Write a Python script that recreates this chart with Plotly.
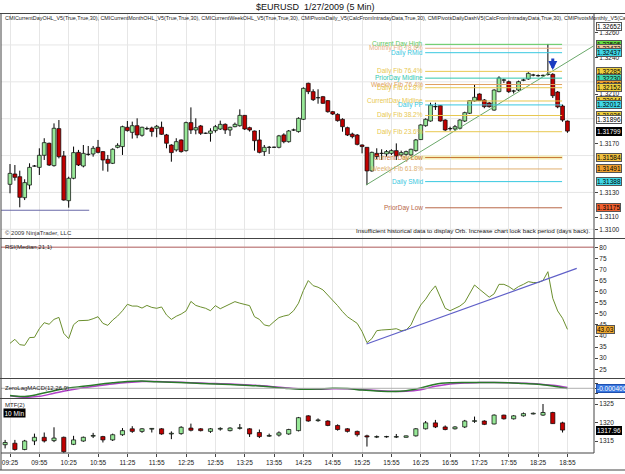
import plotly.graph_objects as go

W, H = 625, 474

# ---------------- data ----------------
time_labels = ["09:25", "09:55", "10:25", "10:55", "11:25", "11:55", "12:25", "12:55", "13:25", "13:55",
               "14:25", "14:55", "15:25", "15:55", "16:25", "16:55", "17:25", "17:55", "18:25", "18:55"]

# 5-minute EURUSD bars (bar index 0 = 09:25)
bar_open = [1.31366, 1.31450, 1.31428, 1.31257, 1.31360, 1.31514, 1.31504, 1.31602, 1.31700, 1.31518,
            1.31819, 1.31597, 1.31233, 1.31415, 1.31626, 1.31515, 1.31609, 1.31613, 1.31667, 1.31632,
            1.31569, 1.31537, 1.31667, 1.31673, 1.31830, 1.31789, 1.31843, 1.31765, 1.31818, 1.31824,
            1.31822, 1.31830, 1.31768, 1.31686, 1.31646, 1.31727, 1.31640, 1.31868, 1.31808, 1.31841,
            1.31781, 1.31781, 1.31803, 1.31816, 1.31854, 1.31808, 1.31835, 1.31843, 1.31927, 1.31827,
            1.31800, 1.31727, 1.31632, 1.31666, 1.31667, 1.31667, 1.31768, 1.31713, 1.31807, 1.31795,
            1.31895, 1.32188, 1.32120, 1.32070, 1.32079, 1.32047, 1.31957, 1.31935, 1.31895, 1.31827,
            1.31775, 1.31767, 1.31686, 1.31667, 1.31475, 1.31618, 1.31617, 1.31613, 1.31618, 1.31640,
            1.31605, 1.31610, 1.31605, 1.31640, 1.31730, 1.31843, 1.31881, 1.31999, 1.32006, 1.31889,
            1.31818, 1.31816, 1.31822, 1.31881, 1.31944, 1.32044, 1.32101, 1.32052, 1.32028, 1.31970,
            1.32120, 1.32213, 1.32201, 1.32124, 1.32133, 1.32212, 1.32223, 1.32254, 1.32249, 1.32249,
            1.32260, 1.32261, 1.32117, 1.32003, 1.31881]
bar_high = [1.31531, 1.31523, 1.31477, 1.31407, 1.31537, 1.31523, 1.31659, 1.31741, 1.31705, 1.31862,
            1.31889, 1.31637, 1.31428, 1.31673, 1.31646, 1.31686, 1.31678, 1.31678, 1.31727, 1.31637,
            1.31605, 1.31659, 1.31700, 1.31843, 1.31881, 1.31876, 1.31903, 1.31835, 1.31835, 1.31835,
            1.31849, 1.31876, 1.31776, 1.31692, 1.31741, 1.31732, 1.31876, 1.31992, 1.31903, 1.31849,
            1.31787, 1.31822, 1.31849, 1.31884, 1.31862, 1.31835, 1.31868, 1.31976, 1.31930, 1.31835,
            1.31803, 1.31808, 1.31686, 1.31678, 1.31673, 1.31768, 1.31781, 1.31808, 1.31819, 1.31911,
            1.32155, 1.32193, 1.32139, 1.32139, 1.32085, 1.32052, 1.31963, 1.31944, 1.31903, 1.31835,
            1.31786, 1.31775, 1.31691, 1.31669, 1.31632, 1.31659, 1.31651, 1.31645, 1.31651, 1.31699,
            1.31640, 1.31640, 1.31656, 1.31735, 1.31854, 1.31903, 1.32030, 1.32030, 1.32011, 1.31895,
            1.31835, 1.31849, 1.31895, 1.31957, 1.32052, 1.32174, 1.32106, 1.32060, 1.32035, 1.32140,
            1.32245, 1.32225, 1.32210, 1.32135, 1.32210, 1.32225, 1.32278, 1.32265, 1.32260, 1.32259,
            1.32508, 1.32270, 1.32125, 1.32015, 1.31885]
bar_low = [1.31293, 1.31396, 1.31179, 1.31238, 1.31325, 1.31510, 1.31442, 1.31564, 1.31515, 1.31510,
           1.31577, 1.31233, 1.31176, 1.31407, 1.31515, 1.31504, 1.31599, 1.31591, 1.31618, 1.31477,
           1.31469, 1.31531, 1.31659, 1.31605, 1.31795, 1.31738, 1.31741, 1.31754, 1.31808, 1.31754,
           1.31749, 1.31768, 1.31659, 1.31550, 1.31632, 1.31624, 1.31632, 1.31776, 1.31773, 1.31768,
           1.31776, 1.31713, 1.31787, 1.31808, 1.31776, 1.31760, 1.31830, 1.31835, 1.31808, 1.31795,
           1.31640, 1.31618, 1.31597, 1.31613, 1.31662, 1.31659, 1.31700, 1.31705, 1.31800, 1.31787,
           1.31889, 1.32100, 1.32044, 1.32022, 1.32020, 1.31949, 1.31930, 1.31876, 1.31794, 1.31759,
           1.31740, 1.31683, 1.31618, 1.31360, 1.31469, 1.31572, 1.31564, 1.31591, 1.31605, 1.31564,
           1.31591, 1.31599, 1.31599, 1.31632, 1.31727, 1.31835, 1.31876, 1.31971, 1.31876, 1.31800,
           1.31803, 1.31803, 1.31813, 1.31873, 1.31938, 1.32039, 1.32044, 1.31985, 1.31990, 1.31965,
           1.32115, 1.32190, 1.32110, 1.32105, 1.32125, 1.32205, 1.32217, 1.32245, 1.32242, 1.32243,
           1.32250, 1.32068, 1.31985, 1.31875, 1.31785]
bar_close = [1.31455, 1.31423, 1.31260, 1.31380, 1.31504, 1.31515, 1.31602, 1.31705, 1.31523, 1.31822,
             1.31591, 1.31238, 1.31415, 1.31624, 1.31523, 1.31618, 1.31611, 1.31659, 1.31626, 1.31564,
             1.31537, 1.31651, 1.31683, 1.31835, 1.31803, 1.31843, 1.31768, 1.31830, 1.31820, 1.31795,
             1.31838, 1.31773, 1.31700, 1.31624, 1.31713, 1.31632, 1.31868, 1.31808, 1.31827, 1.31781,
             1.31782, 1.31800, 1.31835, 1.31854, 1.31808, 1.31830, 1.31854, 1.31927, 1.31816, 1.31808,
             1.31721, 1.31626, 1.31667, 1.31668, 1.31668, 1.31760, 1.31713, 1.31800, 1.31809, 1.31903,
             1.32147, 1.32120, 1.32055, 1.32071, 1.32025, 1.31957, 1.31938, 1.31884, 1.31835, 1.31767,
             1.31754, 1.31691, 1.31673, 1.31475, 1.31626, 1.31591, 1.31619, 1.31632, 1.31640, 1.31597,
             1.31624, 1.31632, 1.31651, 1.31727, 1.31849, 1.31895, 1.32011, 1.31997, 1.31881, 1.31808,
             1.31820, 1.31835, 1.31889, 1.31949, 1.32047, 1.32074, 1.32047, 1.31998, 1.31998, 1.32133,
             1.32231, 1.32216, 1.32120, 1.32126, 1.32201, 1.32216, 1.32269, 1.32256, 1.32251, 1.32253,
             1.32262, 1.32087, 1.31996, 1.31889, 1.31799]

# pivot / fib levels (main panel)
level_names = ["Current Day High", "Monthly Fib 78.6%", "Daily RMid", "Daily Fib 76.4%", "PriorDay Midline",
               "Weekly Fib 76.4%", "Daily Fib 61.8%", "CurrentDay Midline", "Daily PP", "Daily Fib 38.2%",
               "Daily Fib 23.6%", "Current Day Low", "Weekly Fib 61.8%", "Daily SMid", "PriorDay Low"]
level_prices = [1.32505, 1.32473, 1.32437, 1.32285, 1.32230, 1.32178, 1.32152, 1.32044, 1.32012, 1.31926,
                1.31794, 1.31584, 1.31491, 1.31388, 1.31175]
extra_flag_prices = [1.32652, 1.31896]
last_price = 1.31799

# main-panel drawing objects (bar index, price)
trend_start = (72.8, 1.31360)
trend_end = (119.3, 1.32491)
low_line = (-1.8, 16.2, 1.31155)
arrow_bar, arrow_price = 111, 1.32296

# RSI(Median,21,1), one value per 5-min bar
rsi = [36.7, 38.5, 36.1, 35.8, 39.3, 39.4, 43.3, 46.0, 45.3, 47.5,
       48.4, 41.2, 38.8, 45.1, 46.9, 47.1, 47.1, 47.8, 48.7, 45.7,
       44.8, 47.2, 49.0, 51.4, 54.3, 53.5, 53.5, 52.6, 53.8, 52.9,
       52.5, 53.1, 49.5, 47.5, 48.9, 49.9, 51.3, 55.6, 53.8, 53.1,
       52.5, 51.4, 53.7, 52.3, 53.4, 54.4, 55.5, 54.8, 54.4, 53.7,
       48.7, 47.5, 45.0, 44.5, 46.5, 48.3, 49.0, 49.5, 51.4, 54.8,
       60.5, 65.0, 62.7, 62.0, 60.8, 58.5, 56.3, 53.7, 51.0, 48.7,
       47.2, 45.7, 42.0, 37.0, 38.8, 42.4, 42.7, 42.7, 43.0, 43.3,
       42.4, 42.7, 45.0, 49.9, 54.0, 56.6, 60.0, 62.6, 57.8, 52.5,
       51.4, 52.5, 53.5, 55.2, 59.3, 63.0, 61.1, 59.3, 57.5, 59.0,
       63.3, 63.3, 62.3, 60.8, 62.3, 63.3, 64.5, 64.1, 64.1, 65.0,
       69.0, 57.0, 51.3, 48.0, 43.0]
rsi_last = 43.03
rsi_trend_start = (72.9, 36.4)
rsi_trend_end = (115.9, 70.5)

# ZeroLagMACD, sampled every 3 bars
macd_bars = list(range(0, 115, 3))
macd_line = [-7.2e-4, -8.2e-4, -5.8e-4, -2.4e-4, 0.3e-4, 2.0e-4, 3.8e-4, 5.5e-4, 6.8e-4, 7.2e-4,
             6.5e-4, 6.1e-4, 5.5e-4, 4.8e-4, 4.4e-4, 3.8e-4, 3.1e-4, 2.4e-4, 1.0e-4, -0.3e-4,
             -1.0e-4, -0.7e-4, 0.0, -0.3e-4, -1.7e-4, -2.7e-4, -3.1e-4, -2.4e-4, 0.3e-4, 4.1e-4,
             5.5e-4, 5.8e-4, 5.8e-4, 5.8e-4, 5.5e-4, 4.8e-4, 4.1e-4, 2.4e-4, -0.3e-4]
macd_signal = [-7.5e-4, -9.0e-4, -8.0e-4, -5.0e-4, -2.0e-4, 0.5e-4, 2.5e-4, 4.3e-4, 5.8e-4, 6.8e-4,
               6.8e-4, 6.4e-4, 5.8e-4, 5.2e-4, 4.7e-4, 4.2e-4, 3.5e-4, 2.8e-4, 1.6e-4, 0.3e-4,
               -0.7e-4, -0.9e-4, -0.4e-4, -0.4e-4, -1.2e-4, -2.3e-4, -3.0e-4, -3.0e-4, -1.4e-4, 2.0e-4,
               4.4e-4, 5.4e-4, 5.7e-4, 5.8e-4, 5.6e-4, 5.1e-4, 4.4e-4, 3.0e-4, 0.8e-4]
macd_flag = "-0.000406"

# MTF(2): 10-minute bars (bar index -1 = 09:20, step 2)
mtf_bars = list(range(-1, 115, 2))
mtf_open = [1314.0, 1314.4, 1312.7, 1315.0, 1316.0, 1315.1, 1316.0, 1314.1, 1315.0, 1316.3,
            1316.2, 1315.3, 1316.7, 1318.3, 1317.6, 1318.2, 1318.3, 1316.9, 1317.0, 1318.5,
            1318.3, 1317.6, 1318.2, 1317.8, 1318.4, 1318.3, 1317.3, 1316.3, 1316.6, 1316.9,
            1317.8, 1321.8, 1320.5, 1320.4, 1319.2, 1318.3, 1317.6, 1316.4, 1316.05, 1316.1,
            1316.05, 1316.0, 1316.4, 1318.3, 1319.9, 1318.8, 1318.3, 1318.8, 1320.3, 1320.4,
            1319.6, 1322.0, 1321.0, 1321.8, 1322.3, 1322.0, 1322.7, 1319.9]
mtf_high = [1315.3, 1315.3, 1315.3, 1317.0, 1317.3, 1318.7, 1316.2, 1316.4, 1316.2, 1317.2,
            1316.4, 1317.0, 1318.5, 1319.0, 1318.5, 1318.5, 1318.5, 1317.6, 1319.0, 1319.7,
            1318.5, 1318.5, 1318.7, 1318.7, 1319.6, 1318.5, 1318.1, 1317.0, 1317.6, 1318.3,
            1321.5, 1322.0, 1321.1, 1320.6, 1319.5, 1318.5, 1317.8, 1316.7, 1316.5, 1316.4,
            1316.9, 1316.5, 1318.5, 1320.4, 1320.7, 1319.2, 1319.0, 1320.7, 1321.6, 1320.6,
            1322.2, 1322.1, 1322.0, 1322.7, 1322.7, 1325.0, 1322.9, 1320.2]
mtf_low = [1313.0, 1312.4, 1312.5, 1313.9, 1314.6, 1314.7, 1311.8, 1313.9, 1314.8, 1315.8,
           1314.6, 1315.0, 1316.4, 1317.2, 1317.2, 1317.3, 1316.7, 1315.5, 1316.7, 1317.6,
           1317.6, 1317.2, 1317.8, 1317.6, 1318.1, 1316.1, 1315.8, 1316.1, 1316.2, 1316.7,
           1317.6, 1320.2, 1320.2, 1319.0, 1317.8, 1317.3, 1316.2, 1313.5, 1315.8, 1315.9,
           1315.8, 1315.9, 1316.2, 1318.1, 1318.5, 1317.9, 1318.1, 1318.5, 1319.9, 1319.3,
           1319.5, 1320.8, 1320.8, 1321.6, 1322.2, 1321.8, 1319.6, 1317.3]
mtf_close = [1314.6, 1312.7, 1315.0, 1316.0, 1315.0, 1315.8, 1312.1, 1315.3, 1316.0, 1316.5,
             1315.3, 1316.7, 1317.8, 1317.6, 1318.3, 1318.4, 1316.9, 1317.1, 1318.7, 1317.9,
             1317.8, 1318.3, 1318.4, 1318.5, 1318.6, 1316.9, 1316.2, 1316.5, 1317.2, 1318.1,
             1321.3, 1320.4, 1320.7, 1319.2, 1318.1, 1317.6, 1316.7, 1316.1, 1316.2, 1316.2,
             1316.2, 1316.4, 1318.3, 1319.9, 1318.8, 1318.1, 1318.8, 1320.4, 1320.5, 1319.5,
             1322.0, 1321.0, 1321.8, 1322.4, 1322.5, 1322.7, 1319.7, 1317.96]
mtf_last = 1317.96

header_text = ("CMICurrentDayOHL_V5(True,True,30), CMICurrentMonthOHL_V5(True,True,30), "
               "CMICurrentWeekOHL_V5(True,True,30), CMIPivotsDaily_V5(CalcFromIntradayData,True,30), "
               "CMIPivotsDailyDashV5(CalcFromIntradayData,True,30), CMIPivotsMonthly_V5(CalcFromIntradayData,True,30)")

# ---------------- styling ----------------
FONT = "Liberation Sans, Arial, sans-serif"
level_colors = ["#5cc85c", "#e8b088", "#38c8e0", "#e8c850", "#30c8b0", "#e0a060", "#e8c850", "#e8c850",
                "#38c8e0", "#e8c850", "#e8c850", "#c87838", "#e0b070", "#38c8e0", "#b86848"]
flag_colors = ["#66dd44", "#f0c8a0", "#40d8e8", "#f0d040", "#40d8b0", "#f0a030", "#f0d040", "#f0d040",
               "#40d8e8", "#f0d040", "#f0d040", "#f0c040", "#f0a030", "#40d8e8", "#f06030"]
UP, DN = "#98e898", "#c00000"
GRID = "#e6e6e6"

def ypx(p):  # pixel row -> paper y
    return 1 - p / H

def xpx(p):
    return p / W

XR = [-1.84, 119.43]
XD = [xpx(1), xpx(594)]
dom_main = [ypx(238), ypx(14)]
dom_rsi = [ypx(377), ypx(239)]
dom_macd = [ypx(398), ypx(379)]
dom_mtf = [ypx(453), ypx(399)]

fig = go.Figure()


def add_candles(xs, o, h, l, c, xa, ya, width, eps):
    wx, wy = [], []
    for k in range(len(xs)):
        top, bot = max(o[k], c[k]), min(o[k], c[k])
        wx += [xs[k], xs[k], None, xs[k], xs[k], None]
        wy += [h[k], top, None, bot, l[k], None]
    fig.add_trace(go.Scatter(x=wx, y=wy, mode="lines", line=dict(color="black", width=1),
                             xaxis=xa, yaxis=ya, hoverinfo="skip", showlegend=False))
    up = [k for k in range(len(xs)) if c[k] >= o[k]]
    dn = [k for k in range(len(xs)) if c[k] < o[k]]
    for idx, fill in ((up, UP), (dn, DN)):
        fig.add_trace(go.Bar(x=[xs[k] for k in idx],
                             y=[max(abs(c[k] - o[k]), eps) for k in idx],
                             base=[min(o[k], c[k]) for k in idx],
                             width=width,
                             marker=dict(color=fill, line=dict(color="black", width=0.7)),
                             xaxis=xa, yaxis=ya, hoverinfo="skip", showlegend=False))


shapes = []
annotations = []

# ---- main panel ----
for g in [1.3100, 1.3130, 1.3160, 1.3190, 1.3220, 1.3250]:
    shapes.append(dict(type="line", xref="paper", yref="y", x0=XD[0], x1=XD[1], y0=g, y1=g,
                       line=dict(color=GRID, width=1), layer="below"))

# pale band under Current Day Low
shapes.append(dict(type="line", xref="x", yref="y", x0=80.2, x1=113, y0=level_prices[11], y1=level_prices[11],
                   line=dict(color="#f6efb8", width=4), layer="below"))
for name, p, col in zip(level_names, level_prices, level_colors):
    shapes.append(dict(type="line", xref="x", yref="y", x0=84.9, x1=112.9, y0=p, y1=p,
                       line=dict(color=col, width=1)))
    annotations.append(dict(x=84.9, y=p, xref="x", yref="y", text=name, showarrow=False,
                            xanchor="right", yanchor="middle", font=dict(size=6.5, color=col)))

add_candles(list(range(len(bar_open))), bar_open, bar_high, bar_low, bar_close, "x", "y", 0.78, 0.000012)

fig.add_trace(go.Scatter(x=[trend_start[0], trend_end[0]], y=[trend_start[1], trend_end[1]], mode="lines",
                         line=dict(color="#6aa86a", width=1), xaxis="x", yaxis="y", hoverinfo="skip",
                         showlegend=False))
fig.add_trace(go.Scatter(x=[low_line[0], low_line[1]], y=[low_line[2], low_line[2]], mode="lines",
                         line=dict(color="#6a6aa8", width=1.2), xaxis="x", yaxis="y", hoverinfo="skip",
                         showlegend=False))
annotations.append(dict(x=arrow_bar, y=arrow_price, xref="x", yref="y", ax=0, ay=-13, text="",
                        showarrow=True, arrowhead=2, arrowsize=0.6, arrowwidth=3, arrowcolor="#1a3cc0"))

# flags
def flag(y, yref, text, bg, fg="black", border="#555"):
    annotations.append(dict(x=xpx(596), y=y, xref="paper", yref=yref, text=text, showarrow=False,
                            xanchor="left", yanchor="middle", bgcolor=bg, bordercolor=border,
                            borderwidth=1, borderpad=0, font=dict(size=6.5, color=fg)))

for p, bg in zip(level_prices, flag_colors):
    flag(p, "y", f"{p:.5f}", bg)
flag(extra_flag_prices[0], "y", f"{extra_flag_prices[0]:.5f}", "white")
flag(extra_flag_prices[1], "y", f"{extra_flag_prices[1]:.5f}", "white")
flag(last_price, "y", f"{last_price:.5f}", "black", fg="white", border="black")

annotations.append(dict(x=xpx(592), y=ypx(230), xref="paper", yref="paper",
                        text="Insufficient historical data to display Orb. Increase chart look back period (days back).",
                        showarrow=False, xanchor="right", yanchor="middle", font=dict(size=6.2, color="#111")))
annotations.append(dict(x=xpx(3), y=ypx(233), xref="paper", yref="paper", text="© 2009 NinjaTrader, LLC",
                        showarrow=False, xanchor="left", yanchor="middle", font=dict(size=6, color="#333")))

# ---- RSI panel ----
shapes.append(dict(type="line", xref="paper", yref="y2", x0=XD[0], x1=XD[1], y0=80, y1=80,
                   line=dict(color="#c89090", width=1.5)))
fig.add_trace(go.Scatter(x=list(range(len(rsi))), y=rsi, mode="lines", line=dict(color="#6b8f2e", width=1),
                         xaxis="x2", yaxis="y2", hoverinfo="skip", showlegend=False))
fig.add_trace(go.Scatter(x=[rsi_trend_start[0], rsi_trend_end[0]], y=[rsi_trend_start[1], rsi_trend_end[1]],
                         mode="lines", line=dict(color="#6060c8", width=1.3), xaxis="x2", yaxis="y2",
                         hoverinfo="skip", showlegend=False))
flag(rsi_last, "y2", f"{rsi_last:.2f}", "#f0a830")
annotations.append(dict(x=xpx(3), y=ypx(246.5), xref="paper", yref="paper", text="RSI(Median,21,1)",
                        showarrow=False, xanchor="left", yanchor="middle", font=dict(size=6, color="#222")))

# ---- MACD panel ----
shapes.append(dict(type="line", xref="paper", yref="y3", x0=XD[0], x1=XD[1], y0=0, y1=0,
                   line=dict(color="#b0b0b0", width=1)))
fig.add_trace(go.Scatter(x=macd_bars, y=macd_signal, mode="lines", line=dict(color="#b040c8", width=1.5, shape="spline"),
                         xaxis="x3", yaxis="y3", hoverinfo="skip", showlegend=False))
fig.add_trace(go.Scatter(x=macd_bars, y=macd_line, mode="lines", line=dict(color="#2a7a2a", width=1.5, shape="spline"),
                         xaxis="x3", yaxis="y3", hoverinfo="skip", showlegend=False))
flag(0, "y3", macd_flag, "#3a78e0", fg="white", border="#2050b0")
annotations.append(dict(x=xpx(3), y=ypx(388), xref="paper", yref="paper", text="ZeroLagMACD(12,26,9)",
                        showarrow=False, xanchor="left", yanchor="middle", font=dict(size=6, color="#222")))

# ---- MTF panel ----
add_candles(mtf_bars, mtf_open, mtf_high, mtf_low, mtf_close, "x4", "y4", 0.85, 0.12)
flag(mtf_last, "y4", f"{mtf_last:.2f}", "black", fg="white", border="black")
annotations.append(dict(x=xpx(3), y=ypx(405), xref="paper", yref="paper", text="MTF(2)",
                        showarrow=False, xanchor="left", yanchor="middle", font=dict(size=6, color="#222")))
annotations.append(dict(x=xpx(3), y=ypx(413), xref="paper", yref="paper", text="10 Min",
                        showarrow=False, xanchor="left", yanchor="middle", bgcolor="black", borderpad=0.5,
                        font=dict(size=6.5, color="white")))

# ---- title / header ----
annotations.append(dict(x=0.505, y=ypx(7), xref="paper", yref="paper", text="$EURUSD  1/27/2009 (5 Min)",
                        showarrow=False, xanchor="center", yanchor="middle", font=dict(size=9, color="#111")))
annotations.append(dict(x=xpx(3), y=ypx(18), xref="paper", yref="paper", text=header_text,
                        showarrow=False, xanchor="left", yanchor="middle", font=dict(size=5.4, color="#222")))

# ---- frame lines ----
for yy in [13.5, 238.5, 378.5, 398.5, 470]:
    shapes.append(dict(type="line", xref="paper", yref="paper", x0=0, x1=1, y0=ypx(yy), y1=ypx(yy),
                       line=dict(color="#444", width=1)))
shapes.append(dict(type="line", xref="paper", yref="paper", x0=xpx(1), x1=xpx(1), y0=ypx(470), y1=ypx(13.5),
                   line=dict(color="#444", width=1)))
shapes.append(dict(type="line", xref="paper", yref="paper", x0=xpx(594), x1=xpx(594), y0=ypx(453), y1=ypx(13.5),
                   line=dict(color="#444", width=1)))
shapes.append(dict(type="line", xref="paper", yref="paper", x0=xpx(1), x1=xpx(594), y0=ypx(453), y1=ypx(453),
                   line=dict(color="#444", width=1)))

xcommon = dict(range=XR, showgrid=True, gridcolor=GRID, tickmode="array", tickvals=list(range(0, 115, 6)),
               zeroline=False, showline=False, fixedrange=True, domain=XD)
ycommon = dict(side="right", showgrid=False, zeroline=False, ticks="outside", ticklen=3, tickcolor="#444",
               tickfont=dict(size=6.5, color="#222"), showline=False, automargin=False)

fig.update_layout(
    width=W, height=H, margin=dict(l=0, r=0, t=0, b=0),
    paper_bgcolor="white", plot_bgcolor="white", barmode="overlay", showlegend=False,
    font=dict(family=FONT, size=7, color="#222"),
    xaxis=dict(**xcommon, anchor="y", showticklabels=False),
    xaxis2=dict(**xcommon, anchor="y2", showticklabels=False),
    xaxis3=dict(**xcommon, anchor="y3", showticklabels=False),
    xaxis4=dict(**xcommon, anchor="y4", showticklabels=True, ticktext=time_labels, ticks="outside",
                ticklen=3, tickcolor="#444", tickfont=dict(size=6.5, color="#222")),
    yaxis=dict(**ycommon, domain=dom_main, range=[1.309292, 1.327518], anchor="x",
               tickvals=[1.3100, 1.3110, 1.3130, 1.3170, 1.3210, 1.3240, 1.3260], tickformat=".4f"),
    yaxis2=dict(**ycommon, domain=dom_rsi, range=[21.52, 83.74], anchor="x2",
                tickvals=list(range(25, 81, 5))),
    yaxis3=dict(**ycommon, domain=dom_macd, range=[-0.00097, 0.00093], anchor="x3", showticklabels=False),
    yaxis4=dict(**ycommon, domain=dom_mtf, range=[1311.76, 1326.35], anchor="x4",
                tickvals=[1315, 1320, 1325]),
    shapes=shapes, annotations=annotations,
)

fig.write_html("out.html")
